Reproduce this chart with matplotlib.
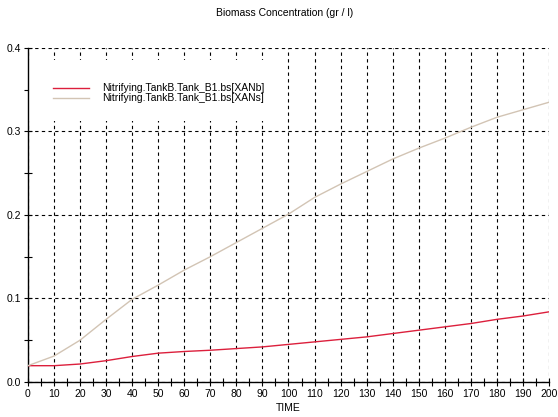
import numpy as np
import matplotlib.pyplot as plt
from matplotlib.patches import Rectangle
from matplotlib.ticker import MultipleLocator, FormatStrFormatter

plt.rcParams['font.family'] = ['Liberation Sans', 'DejaVu Sans']

# simulation output, sampled every 10 time units
time = [0, 10, 20, 30, 40, 50, 60, 70, 80, 90, 100,
        110, 120, 130, 140, 150, 160, 170, 180, 190, 200]
xanb = [0.0195, 0.0195, 0.0215, 0.0255, 0.0305, 0.0345, 0.0365, 0.038, 0.040, 0.042, 0.045,
        0.048, 0.051, 0.054, 0.058, 0.062, 0.066, 0.070, 0.075, 0.079, 0.084]
xans = [0.0195, 0.031, 0.050, 0.075, 0.099, 0.116, 0.134, 0.150, 0.167, 0.184, 0.201,
        0.221, 0.237, 0.252, 0.267, 0.280, 0.292, 0.305, 0.317, 0.326, 0.335]
labels = ['Nitrifying.TankB.Tank_B1.bs[XANb]', 'Nitrifying.TankB.Tank_B1.bs[XANs]']

fig = plt.figure(figsize=(5.58, 4.17), dpi=100)
ax = fig.add_axes([0.050, 0.084, 0.934, 0.801])

ax.plot(time, xanb, color='#dc1f3c', lw=1.0, label=labels[0], zorder=3)
ax.plot(time, xans, color='#d2c4b4', lw=1.0, label=labels[1], zorder=3)

ax.set_xlim(0, 200)
ax.set_ylim(0, 0.4)
ax.xaxis.set_major_locator(MultipleLocator(10))
ax.xaxis.set_minor_locator(MultipleLocator(5))
ax.yaxis.set_major_locator(MultipleLocator(0.1))
ax.yaxis.set_minor_locator(MultipleLocator(0.05))
ax.yaxis.set_major_formatter(FormatStrFormatter('%.1f'))
ax.tick_params(which='both', direction='inout', length=6, width=0.8,
               labelsize=7.5, colors='black', pad=2)

ax.grid(True, which='major', color='black', linestyle=(0, (3, 3)), linewidth=0.8)
ax.set_axisbelow(True)
for side in ('top', 'right'):
    ax.spines[side].set_visible(False)
for side in ('left', 'bottom'):
    ax.spines[side].set_linewidth(1.0)

# white box behind the legend hides the grid there
ax.add_patch(Rectangle((0.6, 0.313), 98.4, 0.073, facecolor='white',
                       edgecolor='none', zorder=2))

ax.set_xlabel('TIME', fontsize=7.5, labelpad=3)
fig.text(0.51, 0.968, 'Biomass Concentration (gr / l)', ha='center', va='center', fontsize=7.5)

ax.legend(loc='upper left', bbox_to_anchor=(0.03, 0.922), frameon=False,
          fontsize=7.5, handlelength=3.45, handletextpad=1.25, labelspacing=0.0)

fig.savefig('out.png', dpi=100)
